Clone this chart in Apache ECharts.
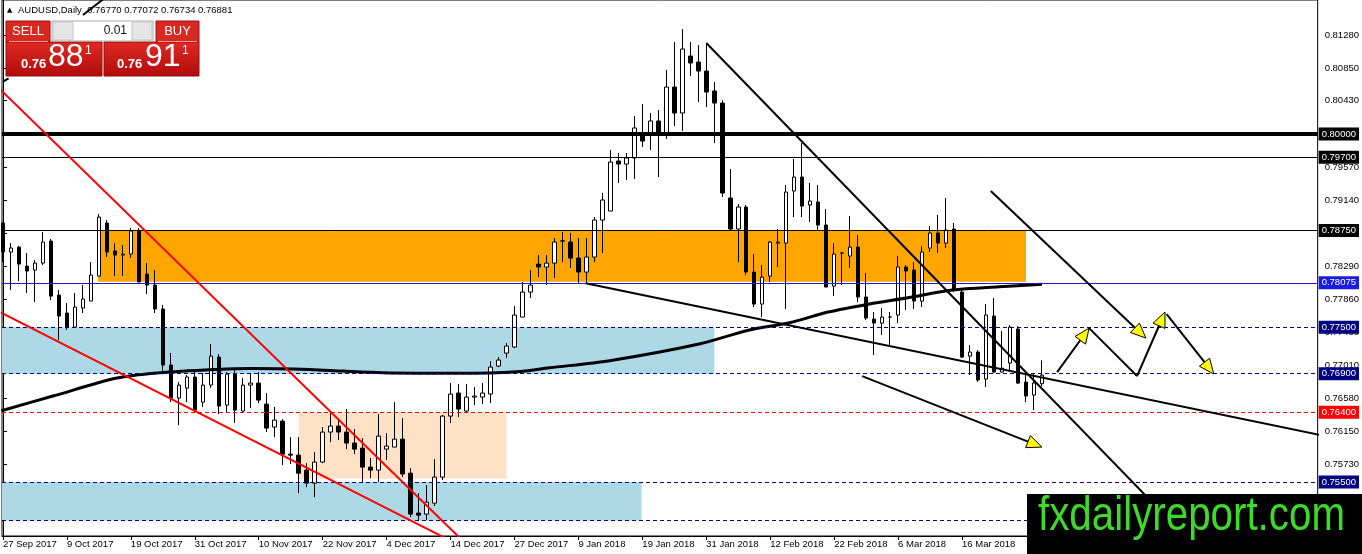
<!DOCTYPE html>
<html><head><meta charset="utf-8">
<script src="https://cdn.jsdelivr.net/npm/echarts@6/dist/echarts.min.js"></script>
<style>html,body{margin:0;padding:0;background:#fff}#c{width:1362px;height:554px}</style>
</head><body><div id="c"></div>
<script>
// ---- DATA ----
const open=[0.78848,0.78473,0.78537,0.78291,0.78240,0.78330,0.78615,0.77916,0.77684,0.77502,
0.77749,0.77839,0.78162,0.78848,0.78486,0.78434,0.78447,0.78745,0.78188,0.78046,
0.77736,0.77011,0.76584,0.76713,0.76856,0.76532,0.76752,0.77114,0.76493,0.76894,
0.76416,0.76752,0.76778,0.76506,0.76209,0.76286,0.75859,0.75846,0.75652,0.75484,
0.75756,0.76144,0.76222,0.76144,0.76002,0.75937,0.75691,0.75652,0.75924,0.75950,
0.76053,0.75613,0.75096,0.75083,0.75225,0.75562,0.76351,0.76649,0.76416,0.76597,
0.76597,0.76636,0.76998,0.77166,0.77244,0.77632,0.77955,0.78317,0.78279,0.78330,
0.78615,0.78602,0.78395,0.78214,0.78408,0.78887,0.79003,0.79650,0.79611,0.79689,
0.79986,0.80012,0.80168,0.80012,0.80607,0.80271,0.81008,0.80931,0.80814,0.80556,
0.80400,0.79172,0.78771,0.79055,0.78214,0.77800,0.78162,0.78589,0.78589,0.79262,
0.79443,0.79081,0.79120,0.78822,0.78033,0.78460,0.78421,0.78537,0.77891,0.77606,
0.77554,0.77632,0.77658,0.78279,0.78240,0.77839,0.78525,0.78719,0.78589,0.78771,
0.77955,0.77127,0.77179,0.76830,0.77645,0.76920,0.77037,0.77477,0.76791,0.76623,
0.76770];
const high=[0.78861,0.78589,0.78550,0.78460,0.78369,0.78732,0.78642,0.77981,0.77813,0.77942,
0.78046,0.78343,0.78964,0.78887,0.78589,0.78563,0.78784,0.78784,0.78330,0.78240,
0.77787,0.77166,0.76791,0.76882,0.76946,0.76907,0.77283,0.77153,0.76920,0.76946,
0.76843,0.76907,0.76920,0.76649,0.76468,0.76312,0.76079,0.76079,0.75743,0.75885,
0.76209,0.76390,0.76299,0.76442,0.76183,0.76066,0.75808,0.76377,0.76131,0.76532,
0.76325,0.75678,0.75355,0.75458,0.75795,0.76364,0.76778,0.76765,0.76765,0.76726,
0.76778,0.77063,0.77114,0.77296,0.77774,0.78085,0.78240,0.78434,0.78434,0.78654,
0.78732,0.78719,0.78654,0.78654,0.78926,0.79237,0.79792,0.79753,0.79753,0.80232,
0.80387,0.80271,0.80310,0.80827,0.81190,0.81358,0.81190,0.81151,0.81177,0.80672,
0.80439,0.79547,0.79094,0.79081,0.78447,0.78304,0.78615,0.78771,0.79340,0.79676,
0.79883,0.79366,0.79340,0.79029,0.78589,0.78473,0.78939,0.78693,0.78201,0.77697,
0.77749,0.77697,0.78421,0.78304,0.78343,0.78550,0.78810,0.78952,0.79172,0.78848,
0.77994,0.77269,0.77205,0.77800,0.77878,0.77451,0.77528,0.77515,0.76907,0.76907,
0.77072];
const low=[0.78343,0.77981,0.78098,0.77942,0.77826,0.78304,0.77852,0.77334,0.77464,0.77490,
0.77684,0.77839,0.78162,0.78408,0.78162,0.78162,0.78396,0.78085,0.77929,0.77684,
0.76907,0.76532,0.76234,0.76532,0.76390,0.76468,0.76713,0.76377,0.76390,0.76261,
0.76390,0.76455,0.76519,0.76144,0.76079,0.75717,0.75730,0.75355,0.75432,0.75303,
0.75743,0.76014,0.76040,0.75924,0.75859,0.75497,0.75549,0.75497,0.75782,0.75950,
0.75562,0.75044,0.74992,0.75005,0.75187,0.75523,0.76261,0.76338,0.76390,0.76494,
0.76506,0.76519,0.76985,0.77101,0.77231,0.77632,0.77878,0.78150,0.78046,0.78137,
0.78343,0.78266,0.78059,0.78072,0.78343,0.78460,0.79003,0.79365,0.79404,0.79418,
0.79831,0.79792,0.79443,0.79935,0.80103,0.80038,0.80749,0.80413,0.80348,0.79883,
0.79185,0.78745,0.78343,0.78175,0.77761,0.77632,0.78085,0.78279,0.77736,0.78926,
0.78926,0.78861,0.78745,0.78020,0.77903,0.78046,0.78266,0.77826,0.77593,0.77140,
0.77399,0.77269,0.77554,0.77723,0.77736,0.77761,0.78473,0.78460,0.78525,0.77955,
0.77101,0.76882,0.76791,0.76726,0.76907,0.76920,0.76946,0.76765,0.76532,0.76429,
0.76734];
const close=[0.78473,0.78525,0.78317,0.78227,0.78330,0.78602,0.77903,0.77645,0.77502,0.77761,
0.77865,0.78175,0.78925,0.78473,0.78434,0.78447,0.78745,0.78085,0.78046,0.77736,
0.77011,0.76584,0.76752,0.76856,0.76429,0.76752,0.77127,0.76480,0.76894,0.76429,
0.76752,0.76778,0.76558,0.76196,0.76299,0.75859,0.75846,0.75613,0.75484,0.75756,
0.76144,0.76222,0.76144,0.76002,0.75924,0.75691,0.75652,0.76092,0.75963,0.76053,
0.75601,0.75083,0.75070,0.75238,0.75562,0.76351,0.76636,0.76442,0.76597,0.76610,
0.76649,0.76985,0.77076,0.77257,0.77658,0.77955,0.78046,0.78279,0.78330,0.78602,
0.78618,0.78395,0.78214,0.78408,0.78887,0.79146,0.79637,0.79611,0.79689,0.80078,
0.79909,0.80168,0.80025,0.80607,0.80271,0.81099,0.80918,0.80814,0.80543,0.80400,
0.79236,0.78771,0.79055,0.78214,0.77800,0.78149,0.78602,0.78602,0.79249,0.79443,
0.79068,0.79133,0.78822,0.78020,0.78447,0.78460,0.78537,0.77891,0.77619,0.77554,
0.77632,0.77632,0.78279,0.78227,0.77839,0.78473,0.78719,0.78589,0.78758,0.77981,
0.77114,0.77179,0.76817,0.77658,0.76920,0.76972,0.77502,0.76778,0.76610,0.76778,
0.76881];

// moving average, read as [bar index, price] points along the curve
const maLine=[[-0.2,0.76420],[6.25,0.76610],[14.25,0.76843],[19.6,0.76911],[26.75,0.76955],[30.9,0.76968],
[38.4,0.76955],[42.5,0.76933],[47.5,0.76911],[57.1,0.76904],[64.25,0.76924],[68.4,0.76976],[75.9,0.77067],
[87.1,0.77283],[93.4,0.77464],[98.4,0.77558],[103.4,0.77700],[108.4,0.77800],[113.4,0.77884],[118.75,0.77981],
[124.6,0.78024],[130,0.78055]];

// trend lines [bar index, price]
const redLine1=[[-1,0.80644],[58,0.74690]];
const redLine2=[[-1,0.77730],[58,0.74634]];
const blackLineA=[[88,0.81177],[148.5,0.74735]];
const blackLineB=[[72.9,0.78070],[166,0.76082]];
const stubLine1=[[10,0.81539],[12.5,0.81740]];
const stubLine2=[[0,0.80676],[0.7,0.80720]];

// arrows: [x1, p1, x2, p2, hasHead]
const arrowSegs=[
 [123.6,0.79262,143.0,0.77360,1],
 [107.5,0.76868,130.0,0.75950,1],
 [131.9,0.76920,135.9,0.77489,1],
 [135.9,0.77489,141.9,0.76869,0],
 [141.9,0.76869,145.4,0.77697,1],
 [145.6,0.77671,151.5,0.76895,1]
];

// zones [x1, p1, x2, p2]
const zoneOrange=[11.9,0.78750,128,0.78090];
const zoneBlue1=[-0.125,0.77500,89,0.76900];
const zoneBlue2=[-0.125,0.75500,79.9,0.75000];
const zonePeach=[37,0.76400,63,0.75540];

// horizontal levels
const levels=[0.80000,0.79700,0.78750,0.78075,0.77500,0.76881,0.76900,0.76400,0.75500,0.75000];

// axes
const yTicks=[0.8128,0.8085,0.8043,0.8000,0.7957,0.7914,0.7871,0.7829,0.7786,0.7743,0.7701,0.7658,0.7615,0.7573,0.7530];
const xLabelIdx=[0,8,16,24,32,40,48,56,64,72,80,88,96,104,112,120];
const xLabels=['27 Sep 2017','9 Oct 2017','19 Oct 2017','31 Oct 2017','10 Nov 2017','22 Nov 2017','4 Dec 2017','14 Dec 2017','27 Dec 2017','9 Jan 2018','19 Jan 2018','31 Jan 2018','12 Feb 2018','22 Feb 2018','6 Mar 2018','16 Mar 2018'];

const bid=0.76881, ask=0.76911;

// ---- STYLES ----
const FONT='"Liberation Sans", Arial, sans-serif';
const levelColor=['#000','#000','#000','#1a1acc','#000080','#000','#000080','#ff0000','#000080','#000080'];
const levelTag  =['#000','#000','#000','#1a1ae6','#000080','#000','#000080','#ff0000','#000080','#000080'];
const levelWidth=[4,1,1,1,1,1,1,1,1,1];
const levelDash =['solid','solid','solid','solid',[4,3],'solid',[4,3],[4,3],[4,3],[4,3]];
const levelLineOpacity=[1,1,1,1,1,0,1,1,1,1];

const candles=open.map((o,i)=>[i,o,close[i],low[i],high[i]]);
const last=open.length-1;

function zoneArea(z,color){return [{coord:[z[0],z[1]],itemStyle:{color:color,opacity:1}},{coord:[z[2],z[3]]}];}

const levelLines=levels.map((v,i)=>({
  yAxis:v,
  lineStyle:{color:levelColor[i],width:levelWidth[i],type:levelDash[i],opacity:levelLineOpacity[i]},
  label:{show:true,position:'end',distance:1,formatter:v.toFixed(5),color:'#fff',backgroundColor:levelTag[i],
         padding:[2,3,1,3],fontSize:9.5,fontFamily:FONT}
}));

function trend(data,color,width){
  return {type:'line',data:data,symbol:'none',showSymbol:false,clip:true,silent:true,z:5,
          lineStyle:{color:color,width:width},animation:false};
}

const chart=echarts.init(document.getElementById('c'));
const split=(v)=>{const s=v.toFixed(5);return [s.slice(0,4),s.slice(4,6),s.slice(6)];};
const b=split(bid), a=split(ask);
const header='AUDUSD,Daily  '+[open[last],high[last],low[last],close[last]].map(v=>v.toFixed(5)).join(' ');
const redGrad=()=>new echarts.graphic.LinearGradient(0,0,0,1,[{offset:0,color:'#e02a24'},{offset:1,color:'#b00b0b'}]);
function txt(x,y,text,font,fill,align){return {type:'text',z:200,x:x,y:y,silent:true,
  style:{text:text,font:font,fill:fill,align:align||'left',verticalAlign:'middle',textAlign:align||'left',textVerticalAlign:'middle'}};}

chart.setOption({
  animation:false,
  backgroundColor:'#fff',
  grid:{left:2,right:43,top:0,bottom:18,show:true,borderColor:'#000',borderWidth:1,backgroundColor:'#fff'},
  xAxis:{type:'value',min:-0.125,max:164.5,splitLine:{show:false},
    axisLine:{show:true,onZero:false,lineStyle:{color:'#000'}},
    axisTick:{show:true,length:4,customValues:xLabelIdx,lineStyle:{color:'#000'}},
    axisLabel:{customValues:xLabelIdx,formatter:(v)=>{const k=xLabelIdx.indexOf(Math.round(v));return k>=0?xLabels[k]:'';},
      align:'left',margin:3,color:'#000',fontSize:9.5,fontFamily:FONT}},
  yAxis:{type:'value',position:'right',min:0.748,max:0.81733,splitLine:{show:false},
    axisLine:{show:true,lineStyle:{color:'#000'}},
    axisTick:{show:true,length:4,customValues:yTicks,lineStyle:{color:'#000'}},
    axisLabel:{customValues:yTicks,formatter:(v)=>v.toFixed(5),margin:7,color:'#000',fontSize:9.5,fontFamily:FONT}},
  series:[
    {type:'line',name:'zones',z:1,data:[[-10,0.78]],symbol:'none',clip:true,silent:true,
     markArea:{silent:true,data:[zoneArea(zoneBlue1,'#ADD8E6'),zoneArea(zoneBlue2,'#ADD8E6'),zoneArea(zonePeach,'#FFE2C6'),zoneArea(zoneOrange,'#FFA500')]}},
    {type:'candlestick',name:'AUDUSD',z:2,data:candles,encode:{x:0,y:[1,2,3,4]},barWidth:4,clip:true,silent:true,
     itemStyle:{color:'#fff',color0:'#000',borderColor:'#000',borderColor0:'#000',borderWidth:1}},
    {type:'line',name:'levels',z:3,data:[[-10,0.78]],symbol:'none',clip:true,silent:true,
     markLine:{silent:true,precision:5,symbol:['none','none'],animation:false,data:levelLines}},
    {type:'line',name:'MA',z:4,data:maLine,symbol:'none',showSymbol:false,smooth:0.3,clip:true,silent:true,
     lineStyle:{color:'#000',width:3}},
    trend(redLine1,'#ff0000',2),
    trend(redLine2,'#ff0000',2),
    trend(blackLineA,'#000',2),
    trend(blackLineB,'#000',2),
    trend(stubLine1,'#000',2),
    trend(stubLine2,'#000',2),
    {type:'custom',name:'arrows',z:6,silent:true,data:arrowSegs,encode:{x:[0,2],y:[1,3]},
     renderItem:function(params,api){
       const p=api.coord([api.value(0),api.value(1)]), q=api.coord([api.value(2),api.value(3)]);
       const head=api.value(4);
       const dx=q[0]-p[0], dy=q[1]-p[1], L=Math.hypot(dx,dy), ux=dx/L, uy=dy/L;
       const hl=15, hw=6.5;
       const bx=q[0]-ux*hl, by=q[1]-uy*hl;
       const ch=[{type:'line',shape:{x1:p[0],y1:p[1],x2:head?bx:q[0],y2:head?by:q[1]},style:{stroke:'#000',lineWidth:2}}];
       if(head){ch.push({type:'polygon',shape:{points:[[q[0],q[1]],[bx-uy*hw,by+ux*hw],[bx+uy*hw,by-ux*hw]]},
                 style:{fill:'#ffff00',stroke:'#000',lineWidth:1}});}
       return {type:'group',children:ch};
     }}
  ],
  graphic:{elements:[
    // header
    txt(7,10,'\u25B2','7px "DejaVu Sans"','#000'),
    txt(18,10,header,'9.5px '+FONT,'#000'),
    // SELL panel
    {type:'rect',z:200,silent:true,shape:{x:6,y:21,width:44,height:21},style:{fill:'#d72822',stroke:'#a80c0c',lineWidth:1}},
    {type:'rect',z:200,silent:true,shape:{x:6,y:42,width:96,height:34},style:{fill:redGrad(),stroke:'#9c0808',lineWidth:1}},
    {type:'line',z:201,silent:true,shape:{x1:9,y1:41.5,x2:48,y2:41.5},style:{stroke:'#f29a9a',lineWidth:1}},
    txt(28,31.5,'SELL','13px '+FONT,'#fff','center'),
    txt(21,64,b[0],'bold 13px '+FONT,'#fff'),
    txt(48,57,b[1],'32px '+FONT,'#fff'),
    txt(85,51,b[2],'12px '+FONT,'#fff'),
    // BUY panel
    {type:'rect',z:200,silent:true,shape:{x:156,y:21,width:43,height:21},style:{fill:'#d72822',stroke:'#a80c0c',lineWidth:1}},
    {type:'rect',z:200,silent:true,shape:{x:104,y:42,width:95,height:34},style:{fill:redGrad(),stroke:'#9c0808',lineWidth:1}},
    {type:'line',z:201,silent:true,shape:{x1:158,y1:41.5,x2:197,y2:41.5},style:{stroke:'#f29a9a',lineWidth:1}},
    txt(177.5,31.5,'BUY','13px '+FONT,'#fff','center'),
    txt(117,64,a[0],'bold 13px '+FONT,'#fff'),
    txt(145,57,a[1],'32px '+FONT,'#fff'),
    txt(182,51,a[2],'12px '+FONT,'#fff'),
    // lot spinner
    {type:'rect',z:200,silent:true,shape:{x:52,y:21,width:101,height:20},style:{fill:'#fff',stroke:'#a8a8a8',lineWidth:1}},
    {type:'rect',z:201,silent:true,shape:{x:53,y:22,width:20,height:18},style:{fill:'#e6e6e6',stroke:'#c4c4c4',lineWidth:1}},
    {type:'rect',z:201,silent:true,shape:{x:132,y:22,width:20,height:18},style:{fill:'#e6e6e6',stroke:'#c4c4c4',lineWidth:1}},
    txt(63,31,'\u25BC','6px "DejaVu Sans"','#222','center'),
    txt(142,31,'\u25B2','6px "DejaVu Sans"','#222','center'),
    txt(127,31,'0.01','12px '+FONT,'#111','right'),
    // watermark
    {type:'rect',z:300,silent:true,shape:{x:1027,y:494,width:335,height:60},style:{fill:'#000'}},
    {type:'text',z:301,silent:true,x:1038,y:517,scaleX:0.84,
     style:{text:'fxdailyreport.com',font:'48px '+FONT,fill:'#3fd92c',align:'left',verticalAlign:'middle',textAlign:'left',textVerticalAlign:'middle'}}
  ]}
});
</script></body></html>
